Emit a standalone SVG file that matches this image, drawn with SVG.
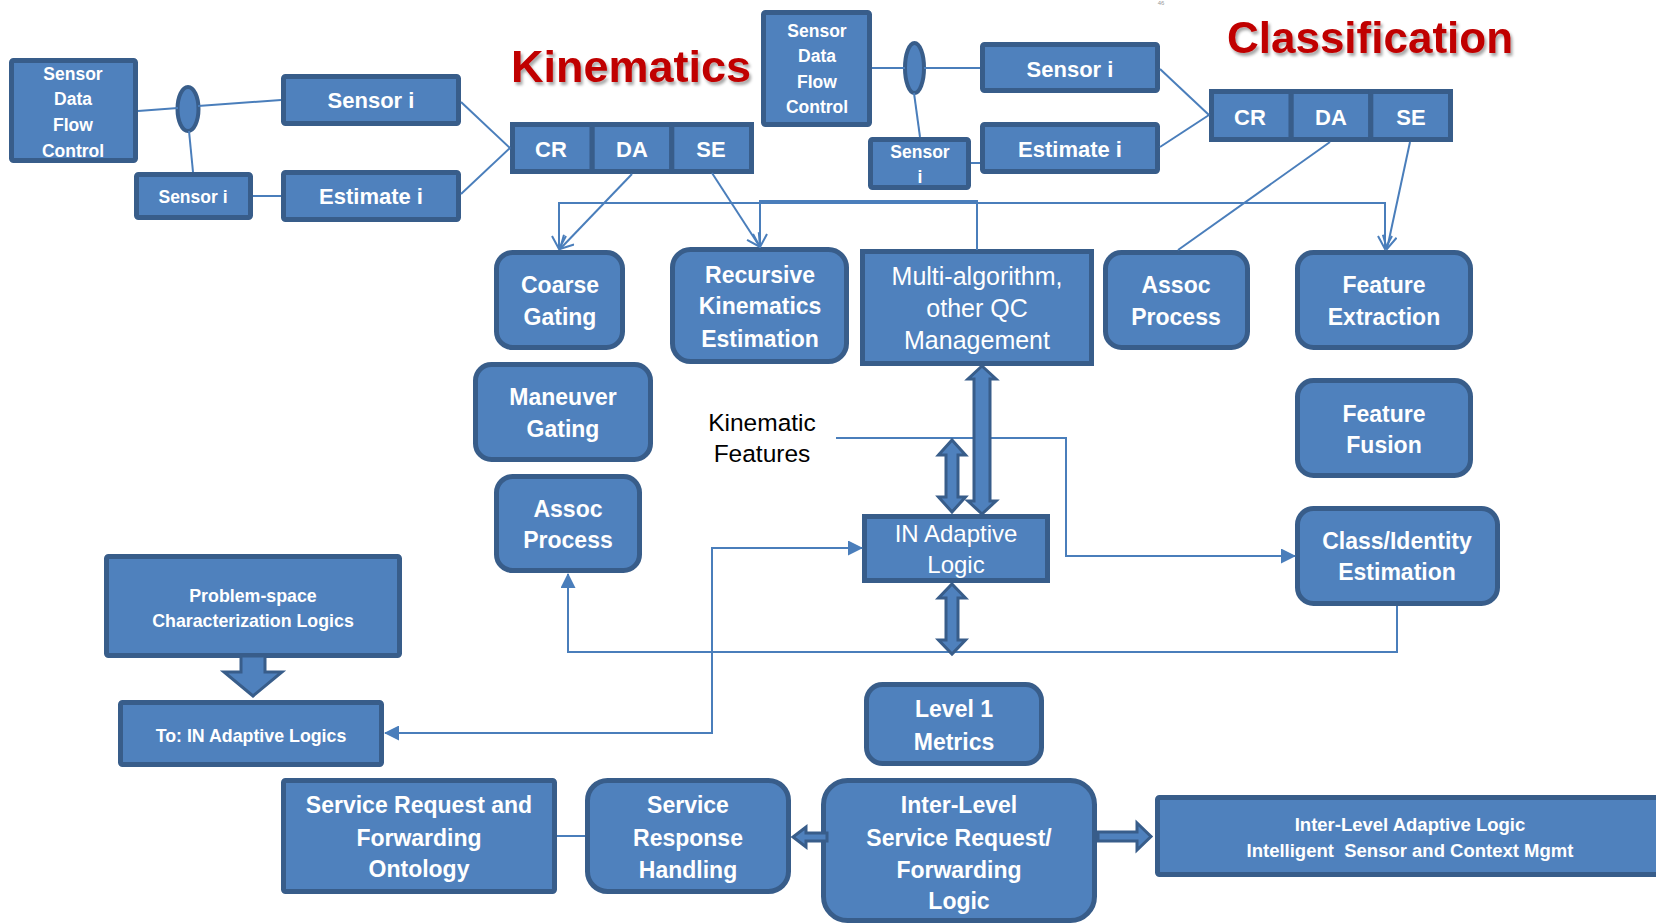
<svg xmlns="http://www.w3.org/2000/svg" width="1656" height="924" viewBox="0 0 1656 924">
  <defs>
    <style>
      .box { fill:#4F81BD; stroke:#385D8A; stroke-width:5; }
      .ell { fill:#4F81BD; stroke:#385D8A; stroke-width:4; }
      .blk { fill:#4F81BD; stroke:#385D8A; stroke-width:3; stroke-linejoin:miter; }
      .conn { fill:none; stroke:#4A7EBB; stroke-width:2; }
      .t { font-family:"Liberation Sans", Arial, sans-serif; font-weight:bold; fill:#FFFFFF; text-anchor:middle; }
      .reg { font-weight:normal; }
      .title { font-family:"Liberation Sans", Arial, sans-serif; font-weight:bold; fill:#C00000; text-anchor:middle; }
      .note { font-family:"Liberation Sans", Arial, sans-serif; fill:#000000; text-anchor:middle; }
    </style>
    <marker id="vee" markerUnits="userSpaceOnUse" markerWidth="16" markerHeight="16" viewBox="0 0 16 16" refX="15" refY="8" orient="auto-start-reverse">
      <path d="M2,1 L15,8 L2,15" fill="none" stroke="#4A7EBB" stroke-width="2"/>
    </marker>
    <marker id="tri" markerUnits="userSpaceOnUse" markerWidth="15" markerHeight="15" viewBox="0 0 15 15" refX="14" refY="7.5" orient="auto-start-reverse">
      <path d="M0,0 L15,7.5 L0,15 z" fill="#4A7EBB"/>
    </marker>
    <filter id="shadow" x="-10%" y="-20%" width="120%" height="150%">
      <feDropShadow dx="2" dy="3" stdDeviation="1.5" flood-color="#000" flood-opacity="0.35"/>
    </filter>
  </defs>

  <rect width="1656" height="924" fill="#FFFFFF"/>

  <!-- headings -->
  <text class="title" x="631" y="82" font-size="45" filter="url(#shadow)">Kinematics</text>
  <text class="title" x="1370" y="53" font-size="44" filter="url(#shadow)">Classification</text>
  <text x="1161" y="5" font-family="Liberation Sans, Arial, sans-serif" font-size="6" fill="#999" text-anchor="middle">46</text>

  <!-- kinematics input side -->
  <g id="dfc-kin">
    <rect class="box" x="11.5" y="60.5" width="124" height="100" rx="2"/>
    <text class="t" font-size="17.5" x="73"><tspan x="73" y="80">Sensor</tspan><tspan x="73" y="105">Data</tspan><tspan x="73" y="131">Flow</tspan><tspan x="73" y="157">Control</tspan></text>
  </g>
  <g id="switch-kin">
    <ellipse class="ell" cx="188" cy="109" rx="10.5" ry="22"/>
  </g>
  <g id="sensor-kin">
    <rect class="box" x="283.5" y="76.5" width="175" height="47" rx="2"/>
    <text class="t" font-size="22" x="371" y="108">Sensor i</text>
  </g>
  <g id="sensor-small-kin">
    <rect class="box" x="136.5" y="174.5" width="114" height="43" rx="2"/>
    <text class="t" font-size="17.5" x="193" y="203">Sensor i</text>
  </g>
  <g id="estimate-kin">
    <rect class="box" x="283.5" y="172.5" width="175" height="47" rx="2"/>
    <text class="t" font-size="22" x="371" y="204">Estimate i</text>
  </g>
  <g id="cr-da-se-kin">
    <rect class="box" x="512.5" y="124.5" width="79.7" height="47"/>
    <rect class="box" x="592.2" y="124.5" width="79.6" height="47"/>
    <rect class="box" x="671.8" y="124.5" width="79.7" height="47"/>
    <text class="t" font-size="22" x="551" y="157">CR</text>
    <text class="t" font-size="22" x="632" y="157">DA</text>
    <text class="t" font-size="22" x="711" y="157">SE</text>
  </g>

  <!-- classification input side -->
  <g id="dfc-cls">
    <rect class="box" x="763.5" y="12.5" width="106" height="112" rx="2"/>
    <text class="t" font-size="17.5" x="817"><tspan x="817" y="37">Sensor</tspan><tspan x="817" y="62">Data</tspan><tspan x="817" y="88">Flow</tspan><tspan x="817" y="113">Control</tspan></text>
  </g>
  <g id="switch-cls">
    <ellipse class="ell" cx="914.5" cy="68" rx="9.5" ry="25"/>
  </g>
  <g id="sensor-small-cls">
    <rect class="box" x="870.5" y="139.5" width="98" height="48" rx="2"/>
    <text class="t" font-size="17.5" x="920"><tspan x="920" y="158">Sensor</tspan><tspan x="920" y="183">i</tspan></text>
  </g>
  <g id="sensor-cls">
    <rect class="box" x="982.5" y="44.5" width="175" height="46" rx="2"/>
    <text class="t" font-size="22" x="1070" y="77">Sensor i</text>
  </g>
  <g id="estimate-cls">
    <rect class="box" x="982.5" y="124.5" width="175" height="47" rx="2"/>
    <text class="t" font-size="22" x="1070" y="157">Estimate i</text>
  </g>
  <g id="cr-da-se-cls">
    <rect class="box" x="1211.5" y="91.5" width="79.7" height="48"/>
    <rect class="box" x="1291.2" y="91.5" width="79.6" height="48"/>
    <rect class="box" x="1370.8" y="91.5" width="79.7" height="48"/>
    <text class="t" font-size="22" x="1250" y="125">CR</text>
    <text class="t" font-size="22" x="1331" y="125">DA</text>
    <text class="t" font-size="22" x="1411" y="125">SE</text>
  </g>

  <!-- processing blocks -->
  <g id="coarse-gating">
    <rect class="box" x="496.5" y="252.5" width="126" height="95" rx="16"/>
    <text class="t" font-size="23" x="560"><tspan x="560" y="293">Coarse</tspan><tspan x="560" y="325">Gating</tspan></text>
  </g>
  <g id="recursive-kinematics">
    <rect class="box" x="672.5" y="249.5" width="174" height="112" rx="18"/>
    <text class="t" font-size="23" x="760"><tspan x="760" y="283">Recursive</tspan><tspan x="760" y="314">Kinematics</tspan><tspan x="760" y="347">Estimation</tspan></text>
  </g>
  <g id="multi-algorithm">
    <rect class="box" x="862.5" y="251.5" width="229" height="112"/>
    <text class="t reg" font-size="25" x="977"><tspan x="977" y="285">Multi-algorithm,</tspan><tspan x="977" y="317">other QC</tspan><tspan x="977" y="349">Management</tspan></text>
  </g>
  <g id="assoc-process-cls">
    <rect class="box" x="1105.5" y="252.5" width="142" height="95" rx="16"/>
    <text class="t" font-size="23" x="1176"><tspan x="1176" y="293">Assoc</tspan><tspan x="1176" y="325">Process</tspan></text>
  </g>
  <g id="feature-extraction">
    <rect class="box" x="1297.5" y="252.5" width="173" height="95" rx="16"/>
    <text class="t" font-size="23" x="1384"><tspan x="1384" y="293">Feature</tspan><tspan x="1384" y="325">Extraction</tspan></text>
  </g>
  <g id="maneuver-gating">
    <rect class="box" x="475.5" y="364.5" width="175" height="95" rx="16"/>
    <text class="t" font-size="23" x="563"><tspan x="563" y="405">Maneuver</tspan><tspan x="563" y="437">Gating</tspan></text>
  </g>
  <g id="feature-fusion">
    <rect class="box" x="1297.5" y="380.5" width="173" height="95" rx="16"/>
    <text class="t" font-size="23" x="1384"><tspan x="1384" y="422">Feature</tspan><tspan x="1384" y="453">Fusion</tspan></text>
  </g>
  <g id="assoc-process-kin">
    <rect class="box" x="496.5" y="476.5" width="143" height="94" rx="16"/>
    <text class="t" font-size="23" x="568"><tspan x="568" y="517">Assoc</tspan><tspan x="568" y="548">Process</tspan></text>
  </g>
  <g id="in-adaptive-logic">
    <rect class="box" x="864.5" y="516.5" width="183" height="64"/>
    <text class="t reg" font-size="24" x="956"><tspan x="956" y="542">IN Adaptive</tspan><tspan x="956" y="573">Logic</tspan></text>
  </g>
  <g id="class-identity">
    <rect class="box" x="1297.5" y="508.5" width="200" height="95" rx="16"/>
    <text class="t" font-size="23" x="1397"><tspan x="1397" y="549">Class/Identity</tspan><tspan x="1397" y="580">Estimation</tspan></text>
  </g>
  <g id="kinematic-features">
    <text class="note" font-size="24.5" x="762"><tspan x="762" y="431">Kinematic</tspan><tspan x="762" y="462">Features</tspan></text>
  </g>

  <!-- lower left -->
  <g id="problem-space">
    <rect class="box" x="106.5" y="556.5" width="293" height="99" rx="2"/>
    <text class="t" font-size="17.8" x="253"><tspan x="253" y="602">Problem-space</tspan><tspan x="253" y="627">Characterization Logics</tspan></text>
  </g>
  <g id="to-in-adaptive">
    <rect class="box" x="120.5" y="702.5" width="261" height="62" rx="2"/>
    <text class="t" font-size="17.8" x="251" y="742">To: IN Adaptive Logics</text>
  </g>

  <!-- bottom row -->
  <g id="service-request-ontology">
    <rect class="box" x="283.5" y="780.5" width="271" height="111" rx="2"/>
    <text class="t" font-size="23" x="419"><tspan x="419" y="813">Service Request and</tspan><tspan x="419" y="846">Forwarding</tspan><tspan x="419" y="877">Ontology</tspan></text>
  </g>
  <g id="service-response">
    <rect class="box" x="587.5" y="780.5" width="201" height="111" rx="20"/>
    <text class="t" font-size="23" x="688"><tspan x="688" y="813">Service</tspan><tspan x="688" y="846">Response</tspan><tspan x="688" y="878">Handling</tspan></text>
  </g>
  <g id="level1-metrics">
    <rect class="box" x="866.5" y="684.5" width="175" height="79" rx="16"/>
    <text class="t" font-size="23" x="954"><tspan x="954" y="717">Level 1</tspan><tspan x="954" y="750">Metrics</tspan></text>
  </g>
  <g id="inter-level-logic">
    <rect class="box" x="823.5" y="780.5" width="271" height="140" rx="24"/>
    <text class="t" font-size="23" x="959"><tspan x="959" y="813">Inter-Level</tspan><tspan x="959" y="846">Service Request/</tspan><tspan x="959" y="878">Forwarding</tspan><tspan x="959" y="909">Logic</tspan></text>
  </g>
  <g id="inter-level-adaptive">
    <rect class="box" x="1157.5" y="797.5" width="520" height="77" rx="2"/>
    <text class="t" font-size="18.5" x="1410"><tspan x="1410" y="831">Inter-Level Adaptive Logic</tspan><tspan x="1410" y="857" xml:space="preserve">Intelligent  Sensor and Context Mgmt</tspan></text>
  </g>

  <!-- connectors -->
  <g id="connectors">
    <!-- sensor feeds, kinematics -->
    <line class="conn" x1="138" y1="111" x2="178" y2="108"/>
    <line class="conn" x1="198" y1="106" x2="281" y2="100"/>
    <line class="conn" x1="189" y1="131" x2="193" y2="172"/>
    <line class="conn" x1="253" y1="196" x2="281" y2="196"/>
    <line class="conn" x1="461" y1="102" x2="510" y2="148"/>
    <line class="conn" x1="461" y1="194" x2="510" y2="148"/>
    <!-- sensor feeds, classification -->
    <line class="conn" x1="872" y1="68" x2="905" y2="68"/>
    <line class="conn" x1="924" y1="68" x2="980" y2="68"/>
    <line class="conn" x1="914" y1="93" x2="920" y2="137"/>
    <line class="conn" x1="971" y1="163" x2="980" y2="163"/>
    <line class="conn" x1="1160" y1="69" x2="1209" y2="115"/>
    <line class="conn" x1="1160" y1="147" x2="1209" y2="115"/>
    <!-- from CR/DA/SE to processing -->
    <line class="conn" x1="632" y1="174" x2="560" y2="249" marker-end="url(#vee)"/>
    <line class="conn" x1="712" y1="173" x2="760" y2="247" marker-end="url(#vee)"/>
    <line class="conn" x1="1330" y1="142" x2="1178" y2="250"/>
    <line class="conn" x1="1410" y1="142" x2="1387" y2="249" marker-end="url(#vee)"/>
    <!-- distribution bus from the QC manager -->
    <path class="conn" d="M559,249 V203 H1385 V249" marker-start="url(#vee)" marker-end="url(#vee)"/>
    <path class="conn" d="M977,250 V201 H760 V247" marker-end="url(#vee)"/>
    <!-- kinematic features to class/identity -->
    <path class="conn" d="M836,438 H1066 V556 H1295" marker-end="url(#tri)"/>
    <!-- feedback loop to assoc process -->
    <path class="conn" d="M1397,606 V652 H568 V574" marker-end="url(#tri)"/>
    <!-- adaptive logic links -->
    <path class="conn" d="M385,733 H712 V548 H862" marker-start="url(#tri)" marker-end="url(#tri)"/>
    <line class="conn" x1="557" y1="836" x2="585" y2="836"/>

    <!-- block arrows -->
    <polygon class="blk" points="982,366 996,379 990,379 990,501 996,501 982,514 968,501 974,501 974,379 968,379"/>
    <polygon class="blk" points="952,440 965.5,455 958,455 958,497 965.5,497 952,512 938.5,497 946,497 946,455 938.5,455"/>
    <polygon class="blk" points="952,584 965.5,598 958,598 958,640 965.5,640 952,654 938.5,640 946,640 946,598 938.5,598"/>
    <polygon class="blk" points="241,656 265,656 265,672 282,672 253,696 224,672 241,672"/>
    <polygon class="blk" points="827,833 806,833 806,827 793,837 806,847 806,841 827,841"/>
    <polygon class="blk" points="1098,832 1137,832 1137,823 1151,836.5 1137,850 1137,841 1098,841"/>
  </g>
</svg>
